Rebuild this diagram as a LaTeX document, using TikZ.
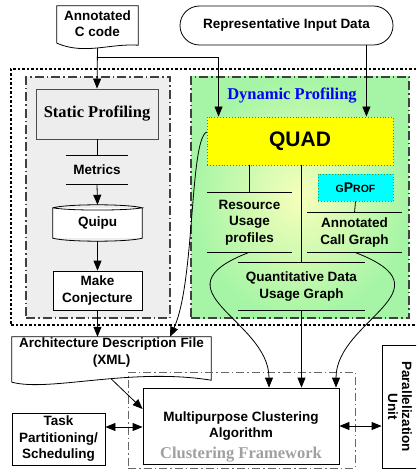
\documentclass[tikz,border=0pt]{standalone}
\usepackage{fontspec}
\setmainfont{Liberation Sans}
\newfontfamily\timesbf{Liberation Serif}
\usetikzlibrary{arrows.meta, positioning, calc}
\definecolor{dynblue}{RGB}{0,0,255}
\definecolor{dyngreen}{RGB}{166,245,166}
\definecolor{dynyellow}{RGB}{246,255,186}
\definecolor{quadyellow}{RGB}{255,255,0}
\definecolor{gprofcyan}{RGB}{0,255,255}
\definecolor{dotgreen}{RGB}{70,140,40}
\definecolor{framegray}{RGB}{160,160,160}
\definecolor{statgray}{RGB}{238,238,238}

\begin{document}
\begin{tikzpicture}[x=1pt, y=-1pt,
  lbl/.style={font=\fontsize{13.5}{16.5}\selectfont\bfseries, align=center, inner sep=0pt},
  pbox/.style={lbl, draw, fill=white, line width=0.8pt},
  ttl/.style={inner sep=0pt, font=\timesbf\fontsize{16.5}{19}\selectfont\bfseries},
  grp/.style={draw=black!75, line width=1.1pt, dash pattern=on 9pt off 3pt on 1.5pt off 3pt, inner sep=0pt},
  fbox/.style={draw=black!60, line width=0.8pt, dash pattern=on 8pt off 3pt on 1.5pt off 3pt, inner sep=0pt},
  dotbox/.style={draw=dotgreen, dotted, line width=0.9pt, inner sep=0pt},
  flow/.style={-{Triangle[length=10pt,width=8pt]}, line width=0.8pt},
  flow2/.style={{Triangle[length=10pt,width=8pt]}-{Triangle[length=10pt,width=8pt]}, line width=0.8pt}
]
  \clip (0,0) rectangle (416,473);

  \node[grp, fill=statgray, minimum width=144pt, minimum height=241pt] (sgrp) at (98,197.5) {};
  \node[grp, shading=radial, inner color=dynyellow, outer color=dyngreen, minimum width=218pt, minimum height=241pt] (dgrp) at (300,197.5) {};
  \draw[line width=1.6pt, dash pattern=on 2.5pt off 2pt] (416,69) -- (11,69) -- (11,325) -- (416,325);
  \node[ttl, text=dynblue] (dyntitle) at (292,96) {Dynamic Profiling};

  \node[lbl, minimum width=81pt, minimum height=35pt] (ccode) at (97.5,23.5) {Annotated\\C code};
  \draw[line width=0.8pt] ([yshift=-2pt]ccode.south west) -- (ccode.north west) -- (ccode.north east) -- ([yshift=-4pt]ccode.south east)
    .. controls +(-28,-2) and +(28,12) .. ([yshift=-2pt]ccode.south west);
  \node[pbox, rounded corners=19.5pt, minimum width=213pt, minimum height=39pt] (rep) at (286.5,25.5) {Representative Input Data};

  \node[pbox, ttl, fill=gray!14, draw=black!70, minimum width=122pt, minimum height=50pt] (sprof) at (97,114) {Static Profiling};
  \node[lbl, minimum width=62pt, minimum height=28pt] (metrics) at (97,170) {Metrics};
  \node[lbl, fill=white, minimum width=89pt, minimum height=30pt] (quipu) at (97.5,223) {Quipu};
  \draw[line width=0.8pt] (quipu.north west) .. controls +(15,-4) and +(-15,-4) .. (quipu.north east)
    .. controls +(-15,3) and +(15,3) .. (quipu.north west) -- (quipu.south west)
    .. controls +(15,4) and +(-15,4) .. (quipu.south east) -- (quipu.north east);
  \node[pbox, minimum width=89pt, minimum height=39pt] (conj) at (97.5,290.5) {Make\\Conjecture};

  \node[dotbox, fill=quadyellow, font=\fontsize{21}{24}\selectfont\bfseries, minimum width=186pt, minimum height=48pt] (quad) at (300,141) {QUAD};
  \node[lbl, minimum width=85pt, minimum height=59pt] (res) at (249.5,222.5) {Resource\\Usage\\profiles};
  \node[dotbox, fill=gprofcyan, font=\bfseries, minimum width=75pt, minimum height=27pt] (gprof) at (355.5,187.5)
    {\fontsize{10.5}{12}\selectfont G\fontsize{14}{12}\selectfont P\fontsize{10.5}{12}\selectfont ROF};
  \node[lbl, minimum width=95pt, minimum height=39pt] (acg) at (354.5,232.5) {Annotated\\Call Graph};
  \node[lbl, minimum width=127pt, minimum height=47pt] (qdug) at (301.5,286.5) {Quantitative Data\\Usage Graph};
  \foreach \s in {metrics,res,acg,qdug}
    \draw[line width=0.8pt] (\s.north west) -- (\s.north east) (\s.south west) -- (\s.south east);

  \node[lbl, minimum width=199pt, minimum height=31pt] (arch) at (111.5,352.5) {Architecture Description File\\(XML)};
  \draw[line width=0.8pt] ([yshift=-14pt]arch.south west) -- (arch.north west) -- (arch.north east) -- ([yshift=-12pt]arch.south east)
    .. controls +(-81,-13) and +(38,10) .. ([yshift=-14pt]arch.south west);

  \node[pbox, minimum width=196pt, minimum height=76pt] (clust) at (241,426) {Multipurpose Clustering\\Algorithm};
  \node[fbox, minimum width=227pt, minimum height=96pt] (frame) at (241.5,420) {};
  \node[ttl, text=framegray] (fwlbl) at (241,455) {Clustering Framework};
  \node[pbox, rotate=-90, font=\fontsize{13.5}{14}\selectfont\bfseries, minimum width=123pt, minimum height=36pt] (para) at (400,406.5) {Parallelization\\Unit};

  \node[pbox, minimum width=93pt, minimum height=52pt] (task) at (58.5,439) {Task\\Partitioning/\\Scheduling};

  \coordinate (split) at (97.5,57);
  \draw[flow] ([yshift=-7pt]ccode.south) -- (sprof.north);
  \draw[flow] (split) -| ([xshift=12pt]quad.north west);
  \draw[flow] ([xshift=-27pt]rep.south east) -- ([xshift=-27pt]rep.south east |- quad.north);
  \draw[line width=0.8pt] (sprof.south) -- (metrics.north);
  \draw[flow] (metrics.south) -- ([yshift=3pt]quipu.north);
  \draw[flow] ([yshift=-3pt]quipu.south) -- (conj.north);
  \draw[flow] (conj.south) -- (conj.south |- arch.north);
  \draw[flow] ([yshift=9pt]quad.west) .. controls +(-17,9) and +(25,-55) .. ([xshift=58.5pt]arch.north);
  \draw[line width=0.8pt] (res.north |- quad.south) -- (res.north);
  \draw[line width=0.8pt] (qdug.north |- quad.south) -- (qdug.north);
  \draw[line width=0.8pt] (gprof.south) -- (acg.north);
  \draw[flow] (res.south) .. controls +(-99,38) and +(0,-68) .. ([xshift=28pt]clust.north);
  \draw[flow] (acg.south) .. controls +(100,38) and +(0,-68) .. ([xshift=95pt]clust.north);
  \draw[flow] (qdug.south) -- (qdug.south |- clust.north);
  \draw[flow] ([yshift=-11pt]arch.south) -- ([yshift=17pt]clust.west);
  \draw[flow2] ([yshift=12pt]task.east) -- ([yshift=12pt]task.east -| clust.west);
  \draw[flow2] (clust.east) -- (clust.east -| para.south);
\end{tikzpicture}
\end{document}
